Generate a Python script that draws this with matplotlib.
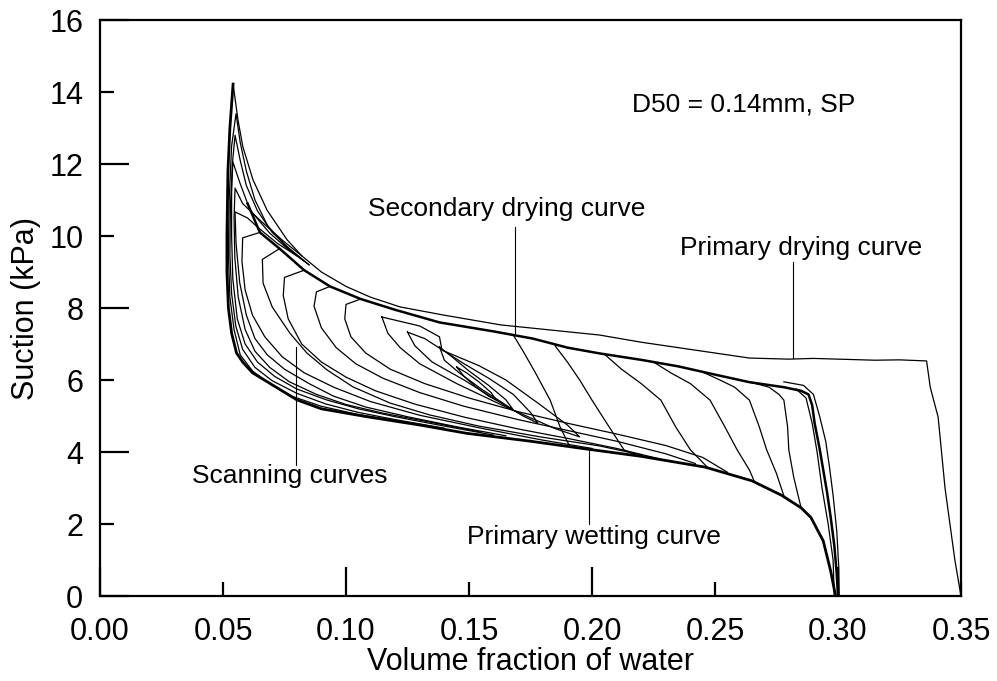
import matplotlib
matplotlib.use("Agg")
import matplotlib.pyplot as plt
from matplotlib.ticker import MultipleLocator, FormatStrFormatter

plt.rcParams['font.family'] = ['Liberation Sans', 'DejaVu Sans']

# primary drying curve (from saturation at 0.35 up to the 14.2 kPa peak)
dry1_x = [0.350, 0.3475, 0.3455, 0.3435, 0.342, 0.3407, 0.3375, 0.336, 0.325, 0.315,
          0.300, 0.290, 0.280, 0.264, 0.240, 0.220, 0.203, 0.183, 0.163, 0.140,
          0.122, 0.110, 0.100, 0.090, 0.082, 0.076, 0.0679, 0.0622, 0.0581, 0.0561, 0.0541]
dry1_y = [0.0, 1.0, 2.0, 3.0, 4.06, 4.97, 5.8, 6.53, 6.56, 6.55,
          6.58, 6.6, 6.58, 6.61, 6.85, 7.05, 7.25, 7.39, 7.53, 7.8,
          8.03, 8.3, 8.6, 9.0, 9.45, 9.9, 10.72, 11.56, 12.47, 13.22, 14.22]

# secondary drying curve
dry2_x = [0.300, 0.2995, 0.2985, 0.297, 0.2955, 0.294, 0.2925, 0.2905, 0.2895, 0.288,
          0.285, 0.278, 0.264, 0.250, 0.235, 0.220, 0.203, 0.190, 0.176, 0.160,
          0.138, 0.120, 0.106, 0.0935, 0.083, 0.073, 0.065, 0.060]
dry2_y = [0.0, 0.6, 1.4, 2.2, 2.9, 3.5, 4.1, 4.8, 5.3, 5.6,
          5.7, 5.8, 5.94, 6.15, 6.38, 6.56, 6.74, 6.9, 7.15, 7.35,
          7.6, 7.95, 8.25, 8.6, 9.05, 9.65, 10.1, 10.9]

# primary wetting curve
wet_x = [0.0541, 0.0528, 0.052, 0.0516, 0.0516, 0.0522, 0.0535, 0.0555, 0.058, 0.062,
         0.068, 0.080, 0.090, 0.1085, 0.130, 0.149, 0.175, 0.196, 0.220, 0.246,
         0.265, 0.277, 0.285, 0.289, 0.294, 0.297, 0.299]
wet_y = [14.22, 13.0, 11.8, 10.0, 9.0, 8.0, 7.3, 6.75, 6.5, 6.2,
         5.95, 5.45, 5.2, 4.98, 4.75, 4.52, 4.3, 4.1, 3.88, 3.58,
         3.2, 2.8, 2.45, 2.18, 1.53, 0.7, 0.0]

# reversal loops at the dry end (peaks 13.4 ... 10.7 kPa)
peak2_x = [0.083, 0.075, 0.068, 0.063, 0.0595, 0.057, 0.0553, 0.0535, 0.0525, 0.0522,
           0.0528, 0.0545, 0.057, 0.062, 0.068, 0.078, 0.090, 0.105, 0.125]
peak2_y = [9.3, 9.75, 10.3, 11.0, 11.8, 12.6, 13.4, 12.5, 11.0, 9.5,
           8.3, 7.4, 6.7, 6.25, 5.95, 5.55, 5.27, 5.04, 4.82]
peak3_x = [0.085, 0.077, 0.070, 0.064, 0.0595, 0.057, 0.0549, 0.0538, 0.053, 0.0528,
           0.0535, 0.0552, 0.058, 0.063, 0.070, 0.080, 0.092, 0.105, 0.120, 0.140]
peak3_y = [9.2, 9.65, 10.1, 10.7, 11.4, 12.1, 12.8, 12.0, 10.8, 9.5,
           8.4, 7.5, 6.85, 6.35, 5.98, 5.63, 5.33, 5.1, 4.9, 4.66]
peak4_x = [0.085, 0.077, 0.069, 0.061, 0.0569, 0.054, 0.0535, 0.0535, 0.054, 0.0558,
           0.059, 0.064, 0.071, 0.080, 0.092, 0.105, 0.120, 0.140, 0.160]
peak4_y = [9.2, 9.6, 10.08, 10.72, 11.47, 12.06, 11.2, 10.0, 8.8, 7.7,
           7.0, 6.5, 6.1, 5.75, 5.45, 5.2, 4.98, 4.72, 4.47]
peak5_x = [0.082, 0.074, 0.065, 0.058, 0.0549, 0.0545, 0.0548, 0.0562, 0.059, 0.063,
           0.069, 0.077, 0.088, 0.100, 0.115, 0.135, 0.155]
peak5_y = [9.45, 9.89, 10.44, 10.9, 11.33, 10.5, 9.4, 8.3, 7.4, 6.8,
           6.35, 5.95, 5.6, 5.32, 5.08, 4.82, 4.55]
peak6_x = [0.080, 0.072, 0.064, 0.060, 0.0549, 0.0553, 0.0568, 0.0595, 0.063, 0.068,
           0.075, 0.085, 0.095, 0.108, 0.125, 0.145, 0.165]
peak6_y = [9.45, 9.8, 10.25, 10.5, 10.67, 9.8, 8.7, 7.8, 7.15, 6.7,
           6.3, 5.9, 5.55, 5.25, 4.98, 4.7, 4.45]

# wetting scanning curves leaving the drying curve on the left
fanA_x = [0.065, 0.058, 0.0577, 0.059, 0.062, 0.067, 0.074, 0.083, 0.095, 0.110,
          0.130, 0.155, 0.180, 0.200]
fanA_y = [10.1, 9.95, 9.3, 8.5, 7.8, 7.2, 6.65, 6.2, 5.8, 5.4,
          5.02, 4.66, 4.33, 4.1]
fanB_x = [0.073, 0.066, 0.0663, 0.070, 0.0772, 0.0841, 0.0923, 0.1028, 0.1179, 0.134,
          0.154, 0.179, 0.203, 0.220]
fanB_y = [9.65, 9.35, 8.69, 8.03, 7.3, 6.75, 6.28, 5.81, 5.36, 5.03,
          4.72, 4.42, 4.17, 3.92]
fanC_x = [0.083, 0.075, 0.0745, 0.0765, 0.082, 0.090, 0.100, 0.112, 0.128, 0.148,
          0.170, 0.190, 0.210, 0.228]
fanC_y = [9.05, 8.85, 8.35, 7.7, 7.0, 6.5, 6.08, 5.7, 5.33, 4.97,
          4.64, 4.38, 4.1, 3.8]
fanD_x = [0.0935, 0.088, 0.087, 0.090, 0.096, 0.104, 0.115, 0.130, 0.148, 0.170,
          0.190, 0.210, 0.230, 0.242]
fanD_y = [8.6, 8.45, 8.05, 7.45, 6.9, 6.45, 6.05, 5.65, 5.27, 4.9,
          4.6, 4.3, 3.95, 3.68]
fanE_x = [0.106, 0.100, 0.0995, 0.102, 0.108, 0.118, 0.132, 0.150, 0.170, 0.190,
          0.210, 0.230, 0.245, 0.255]
fanE_y = [8.25, 8.1, 7.7, 7.2, 6.75, 6.3, 5.9, 5.5, 5.12, 4.8,
          4.5, 4.18, 3.85, 3.44]

# nested scanning loops in the middle
loop1_x = [0.1146, 0.117, 0.122, 0.130, 0.145, 0.165, 0.185, 0.195, 0.190, 0.178,
           0.165, 0.154, 0.139, 0.138, 0.130, 0.1146]
loop1_y = [7.75, 7.3, 6.9, 6.45, 5.9, 5.25, 4.65, 4.42, 4.75, 5.36,
           6.0, 6.4, 6.83, 7.2, 7.5, 7.75]
loop2_x = [0.125, 0.128, 0.135, 0.148, 0.162, 0.172, 0.178, 0.175, 0.168, 0.158,
           0.148, 0.140, 0.132, 0.125]
loop2_y = [7.33, 6.95, 6.5, 6.0, 5.4, 5.0, 4.8, 5.1, 5.6, 6.05,
           6.45, 6.8, 7.15, 7.33]
loop3_x = [0.138, 0.140, 0.146, 0.155, 0.164, 0.168, 0.165, 0.158, 0.150, 0.143, 0.138]
loop3_y = [6.92, 6.55, 6.2, 5.75, 5.35, 5.17, 5.45, 5.85, 6.25, 6.65, 6.92]
loop4_x = [0.145, 0.148, 0.153, 0.158, 0.161, 0.159, 0.154, 0.149, 0.145]
loop4_y = [6.36, 6.1, 5.8, 5.55, 5.45, 5.65, 5.95, 6.2, 6.36]

# wetting scanning curves leaving the drying curve on the right
right0_x = [0.168, 0.172, 0.177, 0.183, 0.187, 0.191, 0.195]
right0_y = [7.25, 6.8, 6.2, 5.44, 4.7, 4.15, 4.1]
right1_x = [0.185, 0.190, 0.195, 0.200, 0.206, 0.213, 0.218]
right1_y = [6.95, 6.5, 6.0, 5.44, 4.8, 4.06, 3.9]
right2_x = [0.205, 0.212, 0.220, 0.228, 0.234, 0.240, 0.247]
right2_y = [6.72, 6.3, 5.9, 5.44, 4.7, 4.06, 3.57]
right3_x = [0.225, 0.232, 0.240, 0.248, 0.254, 0.259, 0.264, 0.266]
right3_y = [6.5, 6.2, 5.9, 5.44, 4.7, 4.06, 3.5, 3.18]
right4_x = [0.245, 0.252, 0.258, 0.264, 0.268, 0.271, 0.275, 0.278]
right4_y = [6.22, 6.0, 5.8, 5.44, 4.7, 4.06, 3.4, 2.78]
right5_x = [0.265, 0.272, 0.276, 0.278, 0.2795, 0.280, 0.282, 0.285]
right5_y = [5.93, 5.8, 5.6, 5.44, 4.7, 4.06, 3.3, 2.45]

# steep branches near saturation
steep1_x = [0.2985, 0.298, 0.296, 0.2935, 0.2915, 0.2895, 0.287, 0.283]
steep1_y = [0.0, 1.0, 2.0, 3.0, 4.0, 4.8, 5.5, 5.75]
steep2_x = [0.3005, 0.3003, 0.2995, 0.298, 0.2965, 0.295, 0.2925, 0.290, 0.286, 0.278]
steep2_y = [0.0, 0.8, 1.8, 2.8, 3.6, 4.3, 5.0, 5.6, 5.85, 5.95]

# labels: text, text position, leader line start/end
notes = [
    ("D50 = 0.14mm, SP", (0.2163, 13.64), None),
    ("Secondary drying curve", (0.1090, 10.75), ((0.1687, 10.25), (0.1687, 7.30))),
    ("Primary drying curve", (0.2358, 9.67), ((0.2817, 9.28), (0.2817, 6.61))),
    ("Scanning curves", (0.0374, 3.33), ((0.0797, 3.64), (0.0797, 6.92))),
    ("Primary wetting curve", (0.1490, 1.64), ((0.1988, 2.00), (0.1988, 4.06))),
]

fig = plt.figure(figsize=(9.97, 6.81), dpi=100)
ax = fig.add_axes([0.1003, 0.1248, 0.8636, 0.8458])

thin = dict(color='black', lw=0.9)
ax.plot(dry1_x, dry1_y, **thin)
ax.plot(dry2_x, dry2_y, color='black', lw=1.8)
ax.plot(wet_x, wet_y, color='black', lw=2.0)
for xs, ys in [(peak2_x, peak2_y), (peak3_x, peak3_y), (peak4_x, peak4_y),
               (peak5_x, peak5_y), (peak6_x, peak6_y),
               (fanA_x, fanA_y), (fanB_x, fanB_y), (fanC_x, fanC_y),
               (fanD_x, fanD_y), (fanE_x, fanE_y),
               (loop1_x, loop1_y), (loop2_x, loop2_y), (loop3_x, loop3_y),
               (loop4_x, loop4_y),
               (right0_x, right0_y), (right1_x, right1_y), (right2_x, right2_y),
               (right3_x, right3_y), (right4_x, right4_y), (right5_x, right5_y),
               (steep1_x, steep1_y), (steep2_x, steep2_y)]:
    ax.plot(xs, ys, **thin)

for text, (tx, ty), leader in notes:
    ax.text(tx, ty, text, fontsize=19, ha='left', va='center')
    if leader is not None:
        (x0, y0), (x1, y1) = leader
        ax.plot([x0, x1], [y0, y1], color='black', lw=0.8)

ax.set_xlim(0, 0.35)
ax.set_ylim(0, 16)

ax.xaxis.set_major_locator(MultipleLocator(0.1))
ax.xaxis.set_minor_locator(MultipleLocator(0.05))
ax.xaxis.set_major_formatter(FormatStrFormatter('%.2f'))
ax.xaxis.set_minor_formatter(FormatStrFormatter('%.2f'))
ax.yaxis.set_major_locator(MultipleLocator(4))
ax.yaxis.set_minor_locator(MultipleLocator(2))
ax.yaxis.set_major_formatter(FormatStrFormatter('%d'))
ax.yaxis.set_minor_formatter(FormatStrFormatter('%d'))

ax.tick_params(which='both', direction='in', top=False, right=False,
               width=1.6, labelsize=22)
ax.tick_params(which='major', length=21)
ax.tick_params(which='minor', length=10)
ax.tick_params(axis='x', which='both', pad=15)
ax.tick_params(axis='y', which='both', pad=12)

for side in ['left', 'bottom', 'top', 'right']:
    ax.spines[side].set_linewidth(1.6)

ax.set_xlabel("Volume fraction of water", fontsize=22)
ax.set_ylabel("Suction (kPa)", fontsize=22)
ax.xaxis.set_label_coords(0.5, -0.088)
ax.yaxis.set_label_coords(-0.069, 0.5)

fig.savefig("out.png", dpi=100)
